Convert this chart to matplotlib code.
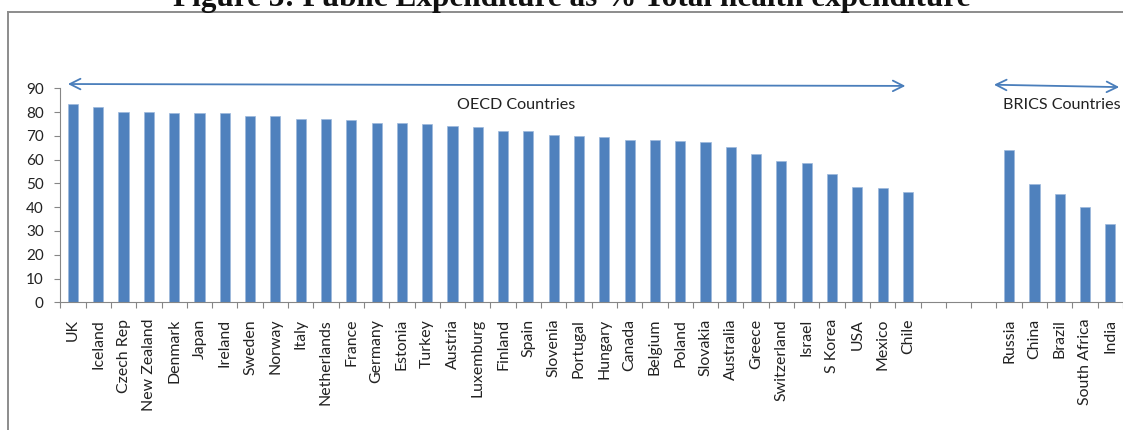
import matplotlib
matplotlib.use("Agg")
import matplotlib.pyplot as plt
from matplotlib.lines import Line2D
import numpy as np

oecd = ["UK", "Iceland", "Czech Rep", "New Zealand", "Denmark", "Japan", "Ireland",
        "Sweden", "Norway", "Italy", "Netherlands", "France", "Germany", "Estonia",
        "Turkey", "Austria", "Luxemburg", "Finland", "Spain", "Slovenia", "Portugal",
        "Hungary", "Canada", "Belgium", "Poland", "Slovakia", "Australia", "Greece",
        "Switzerland", "Israel", "S Korea", "USA", "Mexico", "Chile"]
oecd_values = [83.4, 82.0, 80.2, 80.2, 79.7, 79.7, 79.5, 78.3, 78.3, 77.2, 77.2,
               76.5, 75.4, 75.4, 75.0, 74.3, 73.9, 72.0, 72.0, 70.2, 69.8, 69.5,
               68.4, 68.4, 68.0, 67.3, 65.3, 62.4, 59.4, 58.7, 53.8, 48.4, 47.9, 46.5]
brics = ["Russia", "China", "Brazil", "South Africa", "India"]
brics_values = [64.2, 49.9, 45.4, 39.9, 32.9]
gap_slots = 3
yticks = [0, 10, 20, 30, 40, 50, 60, 70, 80, 90]

title = "Figure 3: Public Expenditure as % Total health expenditure"

labels = oecd + [""] * gap_slots + brics
values = oecd_values + [np.nan] * gap_slots + brics_values
x = np.arange(len(labels))

W, H, DPI = 1123, 430, 100
fig = plt.figure(figsize=(W / DPI, H / DPI), dpi=DPI)
font = ["Lato", "DejaVu Sans"]
plt.rcParams["font.family"] = font

ax_left, ax_right = 60.3, 1123.0
ax_top, ax_bottom = 88.3, 302.3
ax = fig.add_axes([ax_left / W, (H - ax_bottom) / H,
                   (ax_right - ax_left) / W, (ax_bottom - ax_top) / H])

bar_color = "#4F81BD"
ax.bar(x, values, width=0.4, color=bar_color, edgecolor="#9DB9DC", linewidth=0.5)

ax.set_xlim(-0.5, len(labels) - 0.5)
ax.set_ylim(0, 90)
ax.set_yticks(yticks)
ax.set_yticklabels([str(v) for v in yticks], fontsize=11, color="#222222")

# category labels sit between boundary tick marks
ax.set_xticks(x)
ax.set_xticklabels(labels, rotation=90, ha="center", va="top", fontsize=11.4,
                   color="#222222")
ax.set_xticks(np.arange(len(labels) + 1) - 0.5, minor=True)
ax.tick_params(axis="x", which="major", length=0, pad=12)
ax.tick_params(axis="x", which="minor", length=4.5, color="#868686", width=0.8)
ax.tick_params(axis="y", length=4, color="#868686", width=0.8, pad=8)

for side in ("top", "right"):
    ax.spines[side].set_visible(False)
for side in ("left", "bottom"):
    ax.spines[side].set_color("#868686")
    ax.spines[side].set_linewidth(0.8)

# group brackets above the bars
arrow_color = "#4A7EBB"
n_oecd = len(oecd)
brics_start = n_oecd + gap_slots
arrow_props = dict(arrowstyle="<->", color=arrow_color, lw=1.3,
                   mutation_scale=19, shrinkA=0, shrinkB=0)
ax.annotate("", xy=(-0.2, 91.8), xytext=(n_oecd - 1.1, 91.0),
            arrowprops=arrow_props, annotation_clip=False)
ax.annotate("", xy=(brics_start - 0.6, 91.5),
            xytext=(len(labels) - 0.65, 90.5),
            arrowprops=arrow_props, annotation_clip=False)
ax.text(17.5, 83, "OECD Countries", ha="center", va="center", fontsize=11.6,
        color="#222222")
ax.text(len(labels) - 0.6, 83, "BRICS Countries", ha="right", va="center",
        fontsize=11.6, color="#222222")

# chart frame
frame_color = "#8C8C8C"
fig.add_artist(Line2D([8 / W, 1.0], [(H - 12) / H] * 2, color=frame_color,
                      lw=1.4, transform=fig.transFigure))
fig.add_artist(Line2D([8 / W] * 2, [0, (H - 12) / H], color=frame_color,
                      lw=1.4, transform=fig.transFigure))

fig.text(572 / W, (H - 6) / H, title, ha="center", va="baseline",
         fontsize=22.5, fontweight="bold", family=["Liberation Serif"],
         color="#111111")

fig.savefig("out.png", dpi=DPI)
